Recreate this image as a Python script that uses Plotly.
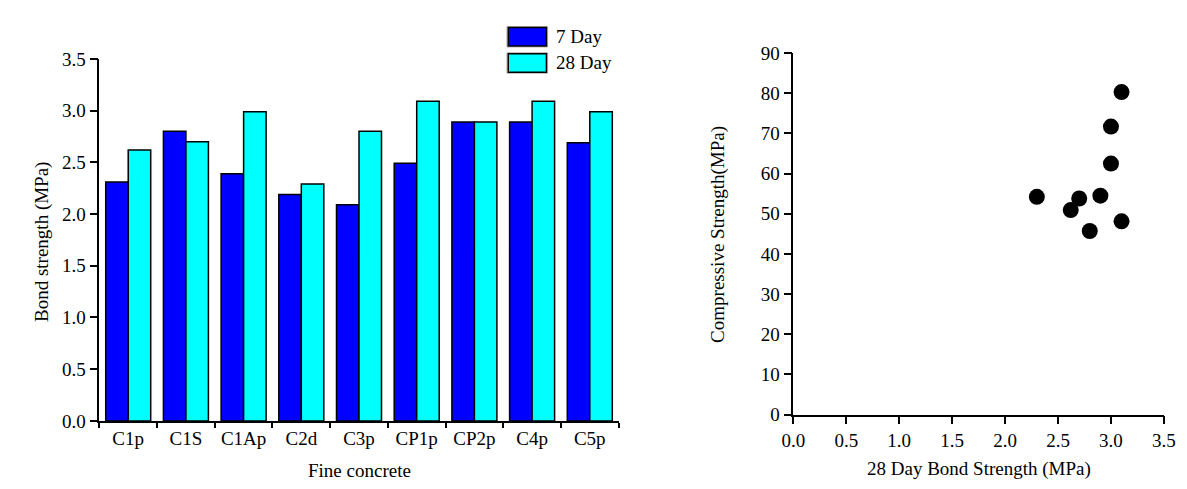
import plotly.graph_objects as go

# ---- data ----
categories = ["C1p", "C1S", "C1Ap", "C2d", "C3p", "CP1p", "CP2p", "C4p", "C5p"]
bond_7day = [2.31, 2.80, 2.39, 2.19, 2.09, 2.49, 2.89, 2.89, 2.69]
bond_28day = [2.62, 2.70, 2.99, 2.29, 2.80, 3.09, 2.89, 3.09, 2.99]

scatter_bond28 = [2.30, 2.62, 2.70, 2.80, 2.90, 3.00, 3.00, 3.10, 3.10]
scatter_compressive = [54.2, 50.9, 53.8, 45.7, 54.5, 62.5, 71.7, 80.3, 48.1]

y1_ticks = [0, 0.5, 1.0, 1.5, 2.0, 2.5, 3.0, 3.5]
x2_ticks = [0, 0.5, 1.0, 1.5, 2.0, 2.5, 3.0, 3.5]
y2_ticks = [0, 10, 20, 30, 40, 50, 60, 70, 80, 90]

legend_names = ["7 Day", "28 Day"]
bar_colors = ["#0000FF", "#00FFFF"]

W, H = 1187, 489
FONT = "Liberation Serif"
FS = 19


def px_x(v):
    return v / W


def px_y(v):
    return (H - v) / H


fig = go.Figure()

for name, vals, col in zip(legend_names, [bond_7day, bond_28day], bar_colors):
    fig.add_trace(go.Bar(
        x=categories, y=vals, name=name,
        marker=dict(color=col, line=dict(color="black", width=1.5)),
        xaxis="x", yaxis="y", showlegend=False,
    ))

fig.add_trace(go.Scatter(
    x=scatter_bond28, y=scatter_compressive, mode="markers",
    marker=dict(color="black", size=16),
    xaxis="x2", yaxis="y2", showlegend=False,
))

axis_common = dict(
    showline=True, linecolor="black", linewidth=1.5,
    ticks="outside", tickcolor="black", tickwidth=1.5,
    showgrid=False, zeroline=False,
    tickfont=dict(family=FONT, size=FS, color="black"),
)

fig.update_layout(
    width=W, height=H, autosize=False,
    margin=dict(l=0, r=0, t=0, b=0),
    paper_bgcolor="white", plot_bgcolor="white",
    font=dict(family=FONT, size=FS, color="black"),
    barmode="group", bargap=0.22, bargroupgap=0,
    xaxis=dict(
        domain=[px_x(81), px_x(611)], anchor="y",
        type="category", tickson="boundaries", ticklen=5,
        **axis_common,
    ),
    yaxis=dict(
        domain=[px_y(421), px_y(42.7)], anchor="x",
        range=[0, 3.5], tickvals=y1_ticks, tickformat=".1f", ticklen=8,
        **axis_common,
    ),
    xaxis2=dict(
        domain=[px_x(789.3), px_x(1167.5)], anchor="y2",
        range=[0, 3.5], tickvals=x2_ticks, tickformat=".1f", ticklen=8,
        **axis_common,
    ),
    yaxis2=dict(
        domain=[px_y(414.3), px_y(36.7)], anchor="x2",
        range=[0, 90], tickvals=y2_ticks, ticklen=8,
        **axis_common,
    ),
)

annots = [
    dict(text="Bond strength (MPa)", x=px_x(22.5), y=px_y(234), textangle=-90),
    dict(text="Fine concrete", x=px_x(346), y=px_y(473)),
    dict(text="Compressive Strength(MPa)", x=px_x(713), y=px_y(226), textangle=-90),
    dict(text="28 Day Bond Strength (MPa)", x=px_x(978.5), y=px_y(471)),
]
for a in annots:
    fig.add_annotation(xref="paper", yref="paper", showarrow=False,
                       xanchor="center", yanchor="middle",
                       font=dict(family=FONT, size=FS, color="black"), **a)

# legend boxes (manual)
legend_rows = [(10, 29.3), (37.3, 56.7)]
for (top, bot), name, col in zip(legend_rows, legend_names, bar_colors):
    fig.add_shape(type="rect", xref="paper", yref="paper",
                  x0=px_x(497), x1=px_x(538.5), y0=px_y(bot + 1), y1=px_y(top - 1),
                  line=dict(color="#b0b0b0", width=1), fillcolor="rgba(0,0,0,0)")
    fig.add_shape(type="rect", xref="paper", yref="paper",
                  x0=px_x(498.3), x1=px_x(537.3), y0=px_y(bot), y1=px_y(top),
                  line=dict(color="black", width=1.5), fillcolor=col)
    fig.add_annotation(xref="paper", yref="paper", showarrow=False,
                       x=px_x(545), y=px_y((top + bot) / 2), xanchor="left", yanchor="middle",
                       text=name, font=dict(family=FONT, size=FS, color="black"))

fig.write_html("out.html")
